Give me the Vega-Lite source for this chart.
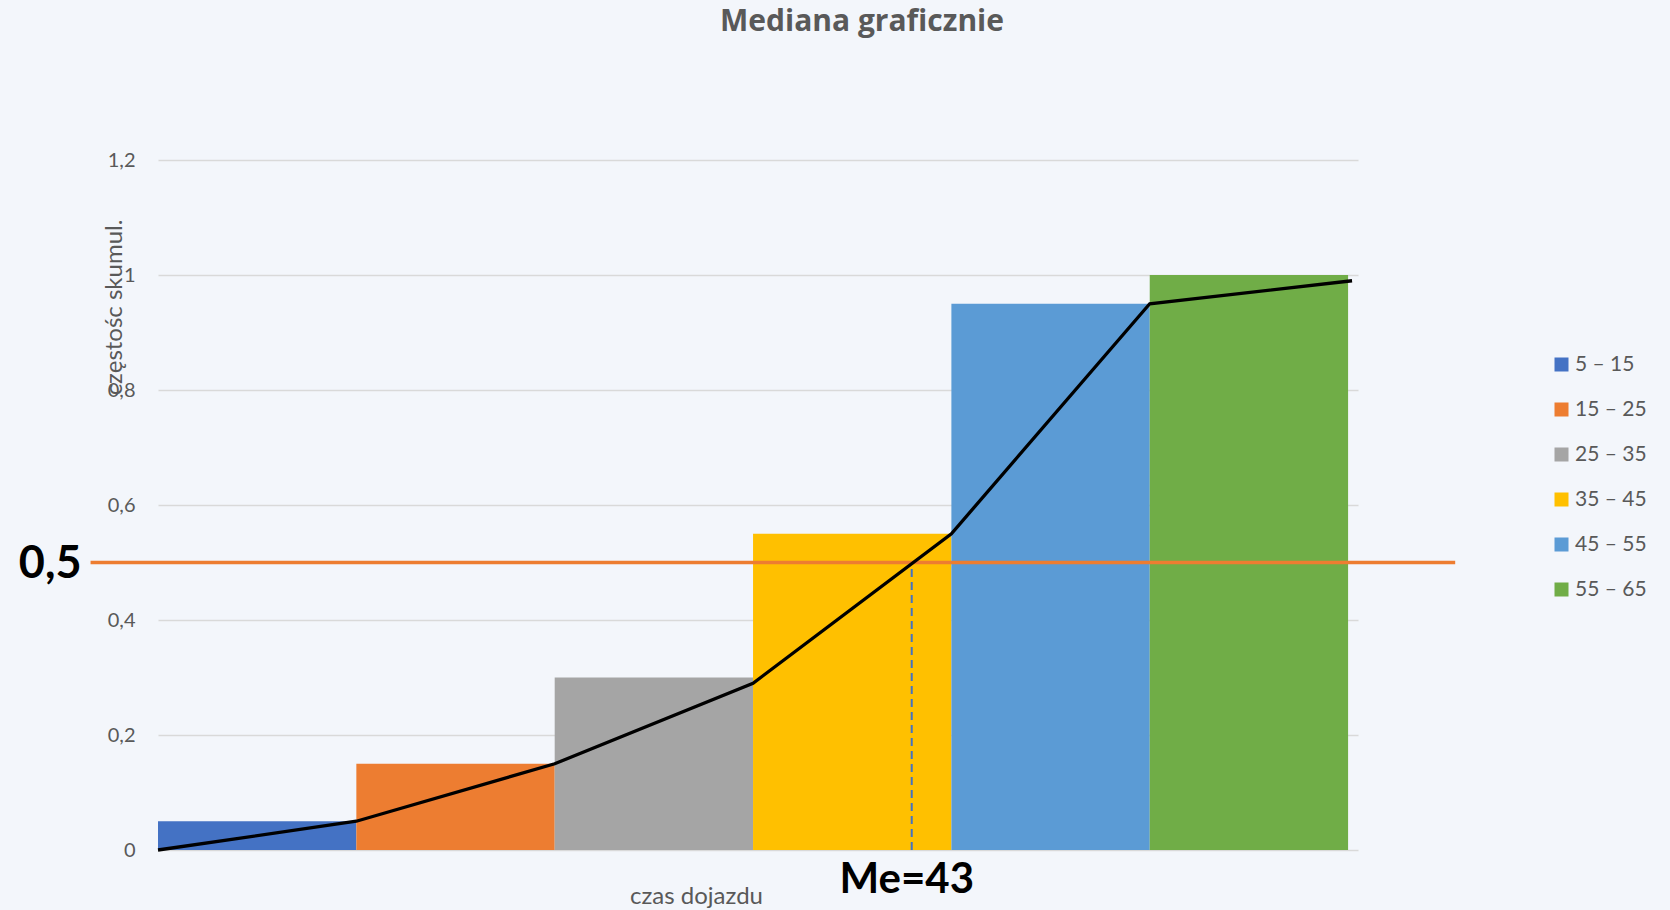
{
  "$schema": "https://vega.github.io/schema/vega-lite/v6.json",
  "autosize": "none",
  "width": 1200,
  "height": 690,
  "padding": {"left": 158, "top": 160, "right": 312, "bottom": 60},
  "background": "#F3F6FB",
  "config": {
    "font": "Lato",
    "view": {"stroke": null},
    "axis": {"labelColor": "#595959", "titleColor": "#595959", "labelFont": "Lato", "titleFont": "Lato"},
    "legend": {"labelFont": "Lato"}
  },
  "title": {
    "text": "Mediana graficznie",
    "font": "Open Sans",
    "fontSize": 30,
    "fontWeight": "bold",
    "color": "#595959",
    "anchor": "middle",
    "frame": "group",
    "baseline": "alphabetic",
    "dx": 104,
    "offset": 89
  },
  "datasets": {
    "classes": [
      {"klasa": "5 – 15", "od": 5, "do": 15, "skumul": 0.05},
      {"klasa": "15 – 25", "od": 15, "do": 25, "skumul": 0.15},
      {"klasa": "25 – 35", "od": 25, "do": 35, "skumul": 0.30},
      {"klasa": "35 – 45", "od": 35, "do": 45, "skumul": 0.55},
      {"klasa": "45 – 55", "od": 45, "do": 55, "skumul": 0.95},
      {"klasa": "55 – 65", "od": 55, "do": 65, "skumul": 1.0}
    ],
    "ogive": [
      {"czas": 5, "skumul": 0},
      {"czas": 15, "skumul": 0.05},
      {"czas": 25, "skumul": 0.15},
      {"czas": 35, "skumul": 0.29},
      {"czas": 45, "skumul": 0.55},
      {"czas": 55, "skumul": 0.95},
      {"czas": 65.2, "skumul": 0.99}
    ],
    "half": [{"od": 1.6, "do": 70.4, "poziom": 0.5, "etykieta": "0,5"}],
    "median": [{"me": 43, "dol": 0, "poziom": 0.5, "etykieta": "Me=43"}]
  },
  "layer": [
    {
      "data": {"name": "classes"},
      "mark": {"type": "bar"},
      "encoding": {
        "x": {
          "field": "od",
          "type": "quantitative",
          "scale": {"domain": [5, 65.5], "nice": false, "zero": false},
          "axis": {
            "title": "czas dojazdu",
            "labels": false,
            "ticks": false,
            "domain": false,
            "grid": false,
            "titleFontSize": 24,
            "titleFontWeight": "normal",
            "titleX": 538,
            "titleY": 53,
            "titleBaseline": "alphabetic",
            "titleAlign": "center"
          }
        },
        "x2": {"field": "do"},
        "y": {
          "field": "skumul",
          "type": "quantitative",
          "scale": {"domain": [0, 1.2], "nice": false},
          "axis": {
            "title": "częstośc skumul.",
            "values": [0, 0.2, 0.4, 0.6, 0.8, 1, 1.2],
            "format": "~g",
            "labelExpr": "replace(datum.label, '.', ',')",
            "labelFontSize": 20,
            "labelPadding": 23,
            "ticks": false,
            "domain": false,
            "gridColor": "#D9D9D9",
            "gridWidth": 1.5,
            "titleFontSize": 24,
            "titleFontWeight": "normal",
            "titleAngle": -90,
            "titleX": -37,
            "titleY": 147,
            "titleAlign": "center",
            "titleBaseline": "alphabetic"
          }
        },
        "y2": {"datum": 0},
        "color": {
          "field": "klasa",
          "type": "nominal",
          "sort": ["5 – 15", "15 – 25", "25 – 35", "35 – 45", "45 – 55", "55 – 65"],
          "scale": {
            "domain": ["5 – 15", "15 – 25", "25 – 35", "35 – 45", "45 – 55", "55 – 65"],
            "range": ["#4472C4", "#ED7D31", "#A5A5A5", "#FFC000", "#5B9BD5", "#70AD47"]
          },
          "legend": {
            "title": null,
            "orient": "none",
            "legendX": 1393,
            "legendY": 194,
            "padding": 0,
            "symbolType": "square",
            "symbolSize": 196,
            "symbolStrokeWidth": 0,
            "labelFontSize": 21,
            "labelColor": "#595959",
            "labelOffset": 3,
            "rowPadding": 23
          }
        }
      }
    },
    {
      "data": {"name": "median"},
      "mark": {"type": "rule", "color": "#4472C4", "strokeWidth": 2, "strokeDash": [8, 5]},
      "encoding": {
        "x": {"field": "me", "type": "quantitative"},
        "y": {"field": "dol", "type": "quantitative"},
        "y2": {"field": "poziom"}
      }
    },
    {
      "data": {"name": "half"},
      "mark": {"type": "rule", "color": "#ED7D31", "strokeWidth": 3.5},
      "encoding": {
        "x": {"field": "od", "type": "quantitative"},
        "x2": {"field": "do"},
        "y": {"field": "poziom", "type": "quantitative"}
      }
    },
    {
      "data": {"name": "ogive"},
      "mark": {"type": "line", "color": "#000000", "strokeWidth": 3.3},
      "encoding": {
        "x": {"field": "czas", "type": "quantitative"},
        "y": {"field": "skumul", "type": "quantitative"}
      }
    },
    {
      "data": {"name": "half"},
      "mark": {"type": "text", "font": "Lato", "fontSize": 45, "fontWeight": "bold", "color": "#000000", "align": "right", "baseline": "alphabetic", "dx": -9, "dy": 15},
      "encoding": {
        "x": {"field": "od", "type": "quantitative"},
        "y": {"field": "poziom", "type": "quantitative"},
        "text": {"field": "etykieta"}
      }
    },
    {
      "data": {"name": "median"},
      "mark": {"type": "text", "font": "Lato", "fontSize": 42, "fontWeight": "bold", "color": "#000000", "align": "center", "baseline": "alphabetic", "dx": -5, "dy": 43},
      "encoding": {
        "x": {"field": "me", "type": "quantitative"},
        "y": {"field": "dol", "type": "quantitative"},
        "text": {"field": "etykieta"}
      }
    }
  ]
}
